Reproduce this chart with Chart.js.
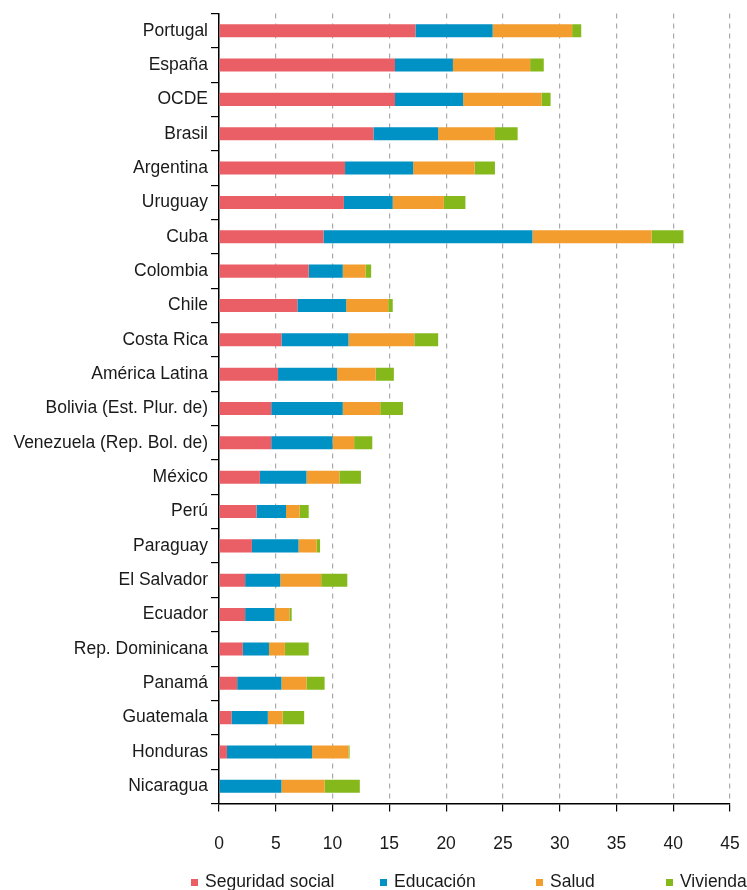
<!DOCTYPE html>
<html>
<head>
<meta charset="utf-8">
<script src="https://cdn.jsdelivr.net/npm/chart.js@4/dist/chart.umd.min.js"></script>
<style>
html,body{margin:0;padding:0;background:#fff;}
#c{display:block;}
</style>
</head>
<body>
<canvas id="c" width="747" height="890"></canvas>
<script>
const categories = ["Portugal","España","OCDE","Brasil","Argentina","Uruguay","Cuba","Colombia","Chile","Costa Rica","América Latina","Bolivia (Est. Plur. de)","Venezuela (Rep. Bol. de)","México","Perú","Paraguay","El Salvador","Ecuador","Rep. Dominicana","Panamá","Guatemala","Honduras","Nicaragua"];
const seguridadSocial = [17.3,15.5,15.5,13.6,11.1,11.0,9.2,7.9,6.9,5.5,5.2,4.6,4.6,3.6,3.3,2.9,2.3,2.3,2.1,1.6,1.1,0.7,0.0];
const educacion       = [6.8,5.1,6.0,5.7,6.0,4.3,18.4,3.0,4.3,5.9,5.2,6.3,5.4,4.1,2.6,4.1,3.1,2.6,2.3,3.9,3.2,7.5,5.5];
const salud           = [7.0,6.8,6.9,5.0,5.4,4.5,10.5,2.0,3.7,5.8,3.4,3.3,1.9,2.9,1.2,1.6,3.6,1.3,1.4,2.2,1.3,3.2,3.8];
const vivienda        = [0.8,1.2,0.8,2.0,1.8,1.9,2.8,0.5,0.4,2.1,1.6,2.0,1.6,1.9,0.8,0.3,2.3,0.2,2.1,1.6,1.9,0.1,3.1];
const seriesNames = ["Seguridad social","Educación","Salud","Vivienda"];
const xTicks = [0,5,10,15,20,25,30,35,40,45];

const colors = ["#EA5F66","#0091C5","#F39D2E","#85B81B"];
const FONT = "'Liberation Sans', Arial, sans-serif";
const legendX = [191,380,536,666];

const legendPlugin = {
  id:'customLegend',
  afterDraw(chart){
    const ctx = chart.ctx;
    ctx.save();
    ctx.font = "17.5px " + FONT;
    ctx.textBaseline = 'alphabetic';
    ctx.textAlign = 'left';
    chart.data.datasets.forEach((ds,i)=>{
      const x = legendX[i];
      ctx.fillStyle = ds.backgroundColor;
      ctx.fillRect(x, 879, 7, 7);
      ctx.fillStyle = '#1a1a1a';
      ctx.fillText(ds.label, x + 14, 887);
    });
    ctx.restore();
  }
};

const values = [seguridadSocial, educacion, salud, vivienda];
new Chart(document.getElementById('c'), {
  type:'bar',
  data:{
    labels:categories,
    datasets: seriesNames.map((n,i)=>({
      label:n,
      data:values[i],
      backgroundColor:colors[i],
      borderWidth:0,
      barPercentage:0.38,
      categoryPercentage:1.0
    }))
  },
  options:{
    indexAxis:'y',
    responsive:false,
    animation:false,
    layout:{padding:{top:13.5,right:17,left:0,bottom:0}},
    plugins:{legend:{display:false},tooltip:{enabled:false}},
    scales:{
      x:{
        stacked:true,
        min:0,max:45,
        afterBuildTicks(s){ s.ticks = xTicks.map(v=>({value:v})); },
        afterFit(s){ s.height = 86.5; s.paddingRight = 0; },
        grid:{color:'#aaaaaa',lineWidth:1.2,tickColor:'#000',tickLength:8,drawTicks:true},
        border:{display:true,color:'#000',width:1.5,dash:[5,5],dashOffset:0},
        ticks:{font:{family:FONT,size:17.5},color:'#1a1a1a',padding:22,maxRotation:0,autoSkip:false}
      },
      y:{
        stacked:true,
        afterFit(s){ s.width = 219; },
        grid:{drawOnChartArea:false,drawTicks:true,tickLength:8,tickColor:'#000',offset:true,lineWidth:1.2},
        border:{display:true,color:'#000',width:1.5},
        ticks:{font:{family:FONT,size:17.5},color:'#1a1a1a',padding:3,autoSkip:false}
      }
    }
  },
  plugins:[legendPlugin]
});
</script>
</body>
</html>
